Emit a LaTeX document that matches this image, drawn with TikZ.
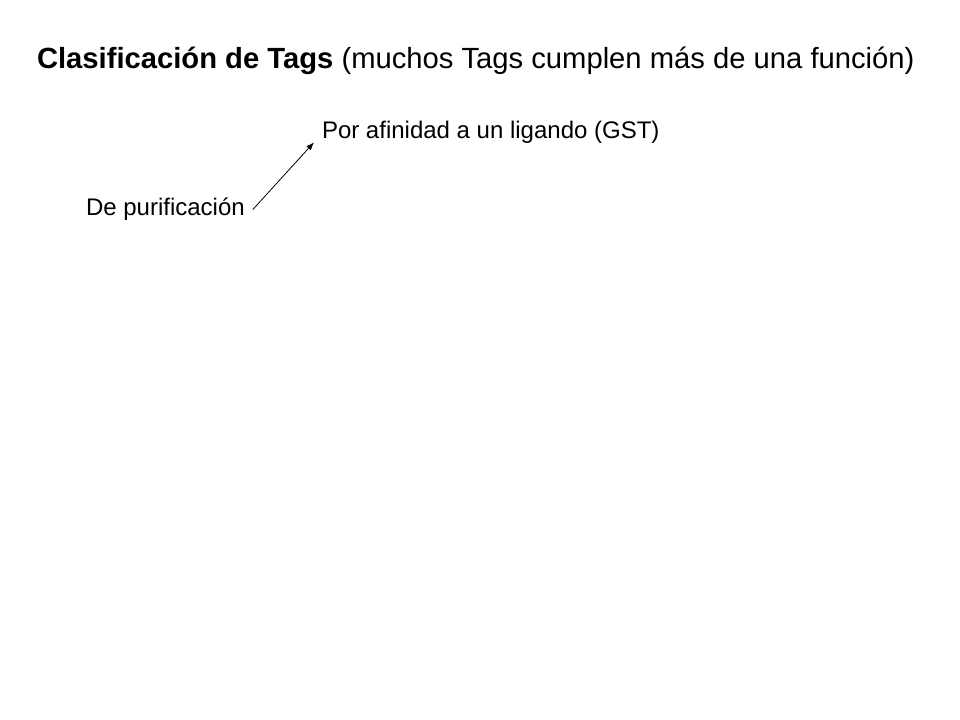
\documentclass[tikz,border=0pt]{standalone}
\usepackage{fontspec}
\setmainfont{Liberation Sans}
\usetikzlibrary{positioning, arrows.meta}
\tikzset{x=0.75pt, y=-0.75pt, % one unit = one pixel of the slide
every node/.style={inner sep=0pt, outer sep=0pt},
tag/.style={font=\fontsize{18}{21}\selectfont, anchor=base west}, % plain labels
heading/.style={font=\fontsize{21.9}{25}\selectfont, anchor=base west},
every edge/.style={draw,-{Latex[length=6pt,width=4.5pt]},semithick}}

\begin{document}
\begin{tikzpicture}
    \useasboundingbox (0,0) rectangle (960,720);

    \node[heading] (title) at (37,69) {\textbf{Clasificación de Tags} (muchos Tags cumplen más de una función)};
    \node[tag] (afinidad) at (322,139) {Por afinidad a un ligando (GST)};
    \node[tag] (purif) at (86,216) {De purificación};

    \draw ([xshift=6pt]purif.east) edge ([xshift=-6pt,yshift=1.25pt]afinidad.south west);

\end{tikzpicture}
\end{document}
